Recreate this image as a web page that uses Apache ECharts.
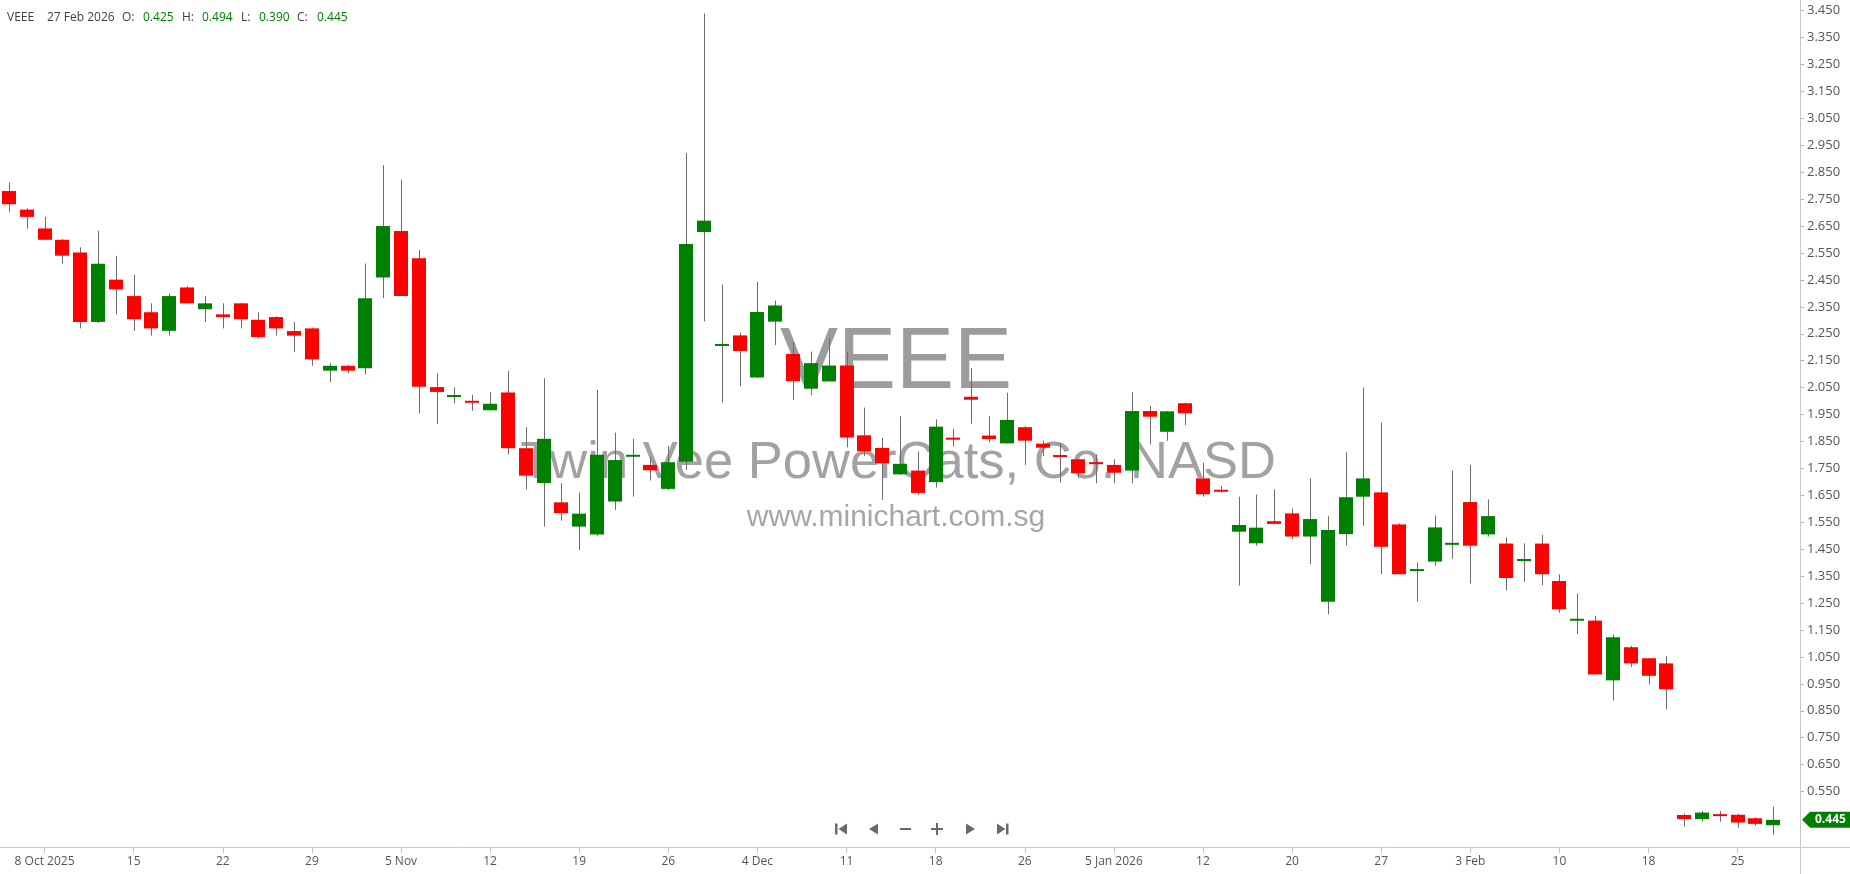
<!DOCTYPE html>
<html>
<head>
<meta charset="utf-8">
<script src="https://cdn.jsdelivr.net/npm/echarts@6/dist/echarts.min.js"></script>
<style>
html,body{margin:0;padding:0;background:#ffffff;}
#chart{width:1850px;height:874px;}
</style>
</head>
<body>
<div id="chart"></div>
<script>
// ---------- DATA ----------
const dates = [
 '2025-10-06','2025-10-07','2025-10-08','2025-10-09','2025-10-10','2025-10-13','2025-10-14','2025-10-15','2025-10-16','2025-10-17',
 '2025-10-20','2025-10-21','2025-10-22','2025-10-23','2025-10-24','2025-10-27','2025-10-28','2025-10-29','2025-10-30','2025-10-31',
 '2025-11-03','2025-11-04','2025-11-05','2025-11-06','2025-11-07','2025-11-10','2025-11-11','2025-11-12','2025-11-13','2025-11-14',
 '2025-11-17','2025-11-18','2025-11-19','2025-11-20','2025-11-21','2025-11-24','2025-11-25','2025-11-26','2025-11-28','2025-12-01',
 '2025-12-02','2025-12-03','2025-12-04','2025-12-05','2025-12-08','2025-12-09','2025-12-10','2025-12-11','2025-12-12','2025-12-15',
 '2025-12-16','2025-12-17','2025-12-18','2025-12-19','2025-12-22','2025-12-23','2025-12-24','2025-12-26','2025-12-29','2025-12-30',
 '2025-12-31','2026-01-02','2026-01-05','2026-01-06','2026-01-07','2026-01-08','2026-01-09','2026-01-12','2026-01-13','2026-01-14',
 '2026-01-15','2026-01-16','2026-01-20','2026-01-21','2026-01-22','2026-01-23','2026-01-26','2026-01-27','2026-01-28','2026-01-29',
 '2026-01-30','2026-02-02','2026-02-03','2026-02-04','2026-02-05','2026-02-06','2026-02-09','2026-02-10','2026-02-11','2026-02-12',
 '2026-02-13','2026-02-17','2026-02-18','2026-02-19','2026-02-20','2026-02-23','2026-02-24','2026-02-25','2026-02-26','2026-02-27'
];
const opens = [
 2.780,2.711,2.641,2.599,2.552,2.294,2.451,2.390,2.330,2.261,
 2.422,2.341,2.322,2.363,2.302,2.312,2.260,2.270,2.113,2.131,
 2.122,2.459,2.632,2.530,2.052,2.016,2.001,1.966,2.032,1.825,
 1.696,1.624,1.534,1.505,1.627,1.795,1.763,1.674,1.775,2.628,
 2.206,2.244,2.088,2.295,2.175,2.046,2.073,2.132,1.873,1.826,
 1.728,1.742,1.699,1.864,2.016,1.872,1.843,1.903,1.842,1.799,
 1.784,1.773,1.763,1.742,1.963,1.886,1.992,1.713,1.670,1.515,
 1.472,1.554,1.583,1.497,1.255,1.506,1.645,1.661,1.542,1.371,
 1.404,1.468,1.625,1.505,1.471,1.408,1.471,1.332,1.186,1.185,
 0.963,1.086,1.045,1.026,0.463,0.448,0.464,0.464,0.451,0.425
];
const highs = [
 2.812,2.716,2.684,2.602,2.571,2.632,2.539,2.469,2.363,2.400,
 2.427,2.390,2.363,2.365,2.330,2.315,2.294,2.273,2.140,2.134,
 2.511,2.876,2.822,2.561,2.103,2.051,2.023,2.033,2.112,1.903,
 2.085,1.695,1.661,2.041,1.883,1.860,1.791,1.834,2.921,3.439,
 2.433,2.255,2.443,2.373,2.220,2.184,2.233,2.184,1.976,1.863,
 1.944,1.813,1.932,1.896,2.123,1.944,2.031,1.907,1.853,1.843,
 1.784,1.802,1.784,2.033,1.982,1.963,1.995,1.771,1.685,1.645,
 1.653,1.672,1.601,1.713,1.573,1.810,2.050,1.921,1.546,1.401,
 1.575,1.742,1.763,1.635,1.494,1.472,1.503,1.357,1.286,1.202,
 1.133,1.091,1.047,1.053,0.469,0.478,0.478,0.468,0.454,0.494
];
const lows = [
 2.701,2.640,2.597,2.511,2.270,2.290,2.322,2.261,2.243,2.243,
 2.363,2.294,2.270,2.270,2.233,2.243,2.182,2.131,2.071,2.103,
 2.099,2.382,2.390,1.954,1.915,1.992,1.964,1.965,1.802,1.672,
 1.534,1.556,1.447,1.500,1.596,1.645,1.705,1.670,1.744,2.296,
 1.995,2.055,2.086,2.208,2.004,2.022,2.073,1.828,1.796,1.633,
 1.726,1.652,1.679,1.831,1.916,1.847,1.842,1.763,1.796,1.697,
 1.713,1.695,1.695,1.695,1.839,1.853,1.911,1.645,1.660,1.315,
 1.463,1.544,1.487,1.395,1.208,1.463,1.537,1.357,1.357,1.255,
 1.389,1.414,1.323,1.497,1.297,1.329,1.316,1.214,1.135,0.985,
 0.888,1.013,0.948,0.855,0.420,0.438,0.438,0.416,0.424,0.390
];
const closes = [
 2.731,2.684,2.599,2.540,2.294,2.510,2.415,2.304,2.270,2.390,
 2.363,2.363,2.312,2.304,2.238,2.270,2.243,2.155,2.131,2.113,
 2.382,2.650,2.390,2.053,2.034,2.022,1.994,1.990,1.825,1.723,
 1.860,1.584,1.582,1.801,1.781,1.799,1.743,1.773,2.583,2.670,
 2.211,2.186,2.331,2.355,2.074,2.141,2.132,1.865,1.814,1.769,
 1.767,1.659,1.905,1.857,2.005,1.859,1.930,1.853,1.827,1.793,
 1.732,1.766,1.734,1.963,1.942,1.962,1.955,1.654,1.664,1.540,
 1.530,1.544,1.497,1.562,1.521,1.643,1.713,1.459,1.357,1.374,
 1.531,1.472,1.463,1.573,1.343,1.412,1.357,1.227,1.190,0.985,
 1.123,1.026,0.980,0.930,0.448,0.472,0.461,0.435,0.430,0.445
];
const xTickLabels = ['8 Oct 2025','15','22','29','5 Nov','12','19','26','4 Dec','11','18','26','5 Jan 2026','12','20','27','3 Feb','10','18','25'];
const yTickValues = [0.55,0.65,0.75,0.85,0.95,1.05,1.15,1.25,1.35,1.45,1.55,1.65,1.75,1.85,1.95,2.05,2.15,2.25,2.35,2.45,2.55,2.65,2.75,2.85,2.95,3.05,3.15,3.25,3.35,3.45];
const symbol = 'VEEE';
const companyName = 'Twin Vee PowerCats, Co. NASD';
const siteName = 'www.minichart.com.sg';
const headerDate = '27 Feb 2026';

// ---------- CHART ----------
const UP = '#008000', DOWN = '#ff0000', WICK = '#6c6c6c';
const categories = dates.concat(['']); // one empty slot on the right
const candleData = dates.map((d, i) => [i, opens[i], closes[i], lows[i], highs[i]]);
const isLabelIdx = (i) => i >= 2 && (i - 2) % 5 === 0 && (i - 2) / 5 < xTickLabels.length;

const chart = echarts.init(document.getElementById('chart'), null, {renderer: 'canvas'});

const FONT = '"Open Sans", "Noto Sans", sans-serif';
const last = dates.length - 1;

const graphics = [
  // frame lines
  {type: 'line', id: 'xline', silent: true, z: 1, shape: {x1: 0, y1: 847.5, x2: 1850, y2: 847.5}, style: {stroke: '#c8c8c8', lineWidth: 1}},
  {type: 'line', id: 'yline', silent: true, z: 1, shape: {x1: 1800.5, y1: 0, x2: 1800.5, y2: 874}, style: {stroke: '#c8c8c8', lineWidth: 1}},
  // watermark
  {type: 'text', id: 'wm1', silent: true, z: 0, x: 896, y: 364, style: {text: symbol, fill: '#9c9c9c', font: '87px "Liberation Sans", Arial, sans-serif', textAlign: 'center', textVerticalAlign: 'middle', align: 'center', verticalAlign: 'middle'}},
  {type: 'text', id: 'wm2', silent: true, z: 0, x: 898, y: 464, style: {text: companyName, fill: '#a2a2a2', font: '52.5px "Liberation Sans", Arial, sans-serif', textAlign: 'center', textVerticalAlign: 'middle', align: 'center', verticalAlign: 'middle'}},
  {type: 'text', id: 'wm3', silent: true, z: 0, x: 896, y: 518, style: {text: siteName, fill: '#a6a6a6', font: '30px "Liberation Sans", Arial, sans-serif', textAlign: 'center', textVerticalAlign: 'middle', align: 'center', verticalAlign: 'middle'}}
];

// header
const hdr = [
  [7, symbol, '#404040'], [47, headerDate, '#404040'],
  [122, 'O:', '#404040'], [143, opens[last].toFixed(3), UP],
  [182, 'H:', '#404040'], [202, highs[last].toFixed(3), UP],
  [241, 'L:', '#404040'], [259, lows[last].toFixed(3), UP],
  [297, 'C:', '#404040'], [317, closes[last].toFixed(3), UP]
];
hdr.forEach((h, k) => graphics.push({type: 'text', id: 'hdr' + k, silent: true, z: 10, x: h[0], y: 18,
  style: {text: h[1], fill: h[2], font: '12px ' + FONT, textAlign: 'left', textVerticalAlign: 'middle', align: 'left', verticalAlign: 'middle'}}));

// navigation icons
const NAV = '#6a6a6a';
graphics.push(
  {type: 'rect', id: 'n1a', silent: true, z: 10, shape: {x: 835, y: 823.5, width: 2.5, height: 11}, style: {fill: NAV}},
  {type: 'polygon', id: 'n1b', silent: true, z: 10, shape: {points: [[838.5, 829], [847, 823.5], [847, 834.5]]}, style: {fill: NAV}},
  {type: 'polygon', id: 'n2', silent: true, z: 10, shape: {points: [[869, 829], [878, 823.5], [878, 834.5]]}, style: {fill: NAV}},
  {type: 'rect', id: 'n3', silent: true, z: 10, shape: {x: 900, y: 828, width: 11, height: 2}, style: {fill: NAV}},
  {type: 'rect', id: 'n4a', silent: true, z: 10, shape: {x: 931, y: 828, width: 12, height: 2}, style: {fill: NAV}},
  {type: 'rect', id: 'n4b', silent: true, z: 10, shape: {x: 936, y: 823, width: 2, height: 12}, style: {fill: NAV}},
  {type: 'polygon', id: 'n5', silent: true, z: 10, shape: {points: [[966, 823.5], [966, 834.5], [975, 829]]}, style: {fill: NAV}},
  {type: 'polygon', id: 'n6a', silent: true, z: 10, shape: {points: [[997, 823.5], [997, 834.5], [1005.5, 829]]}, style: {fill: NAV}},
  {type: 'rect', id: 'n6b', silent: true, z: 10, shape: {x: 1006, y: 823.5, width: 2.5, height: 11}, style: {fill: NAV}}
);

const option = {
  backgroundColor: '#ffffff',
  animation: false,
  grid: {left: 0, right: 50, top: 0, bottom: 27, containLabel: false},
  xAxis: {
    type: 'category',
    data: categories,
    boundaryGap: true,
    axisLine: {show: false},
    axisTick: {show: true, alignWithLabel: true, interval: (i) => isLabelIdx(i), length: 6, lineStyle: {color: '#c8c8c8'}},
    axisLabel: {show: true, interval: (i) => isLabelIdx(i), formatter: (v, i) => isLabelIdx(i) ? xTickLabels[(i - 2) / 5] : '',
      color: '#555555', fontSize: 12, fontFamily: FONT, margin: 9},
    splitLine: {show: false}
  },
  yAxis: {
    type: 'value',
    position: 'right',
    min: 0.3442,
    max: 3.4894,
    scale: true,
    axisLine: {show: false},
    splitLine: {show: false},
    axisTick: {show: true, customValues: yTickValues, length: 4, lineStyle: {color: '#b0b0b0'}},
    axisLabel: {show: true, customValues: yTickValues, formatter: (v) => v.toFixed(3), color: '#555555', fontSize: 13, fontFamily: FONT, margin: 7}
  },
  graphic: {elements: graphics},
  series: [{
    type: 'custom',
    z: 5,
    data: candleData,
    encode: {x: 0, y: [1, 2, 3, 4]},
    renderItem: function (params, api) {
      const i = api.value(0);
      const o = api.value(1), c = api.value(2), l = api.value(3), h = api.value(4);
      const pO = api.coord([i, o]), pC = api.coord([i, c]), pL = api.coord([i, l]), pH = api.coord([i, h]);
      const cx = pO[0];
      const bw = 14;
      const up = c >= o;
      let top = Math.min(pO[1], pC[1]), bot = Math.max(pO[1], pC[1]);
      if (bot - top < 2) { const m = (top + bot) / 2; top = m - 1; bot = m + 1; }
      const wx = Math.round(cx) + 0.5;
      return {
        type: 'group',
        children: [
          {type: 'line', shape: {x1: wx, y1: pH[1], x2: wx, y2: pL[1]}, style: {stroke: WICK, lineWidth: 1}},
          {type: 'rect', shape: {x: Math.round(cx - bw / 2), y: top, width: bw, height: bot - top}, style: {fill: up ? UP : DOWN}}
        ]
      };
    }
  }]
};
chart.setOption(option);

// last price tag on the price axis
const lastY = chart.convertToPixel({yAxisIndex: 0}, closes[last]);
const tagColor = closes[last] >= opens[last] ? UP : DOWN;
chart.setOption({graphic: {elements: [
  {type: 'polygon', id: 'tag', silent: true, z: 20, shape: {points: [[1802, lastY], [1810, lastY - 8], [1850, lastY - 8], [1850, lastY + 8], [1810, lastY + 8]]}, style: {fill: tagColor}},
  {type: 'text', id: 'tagtxt', silent: true, z: 21, x: 1815, y: lastY, style: {text: closes[last].toFixed(3), fill: '#ffffff', font: 'bold 12px ' + FONT, textAlign: 'left', textVerticalAlign: 'middle', align: 'left', verticalAlign: 'middle'}}
]}});
</script>
</body>
</html>
